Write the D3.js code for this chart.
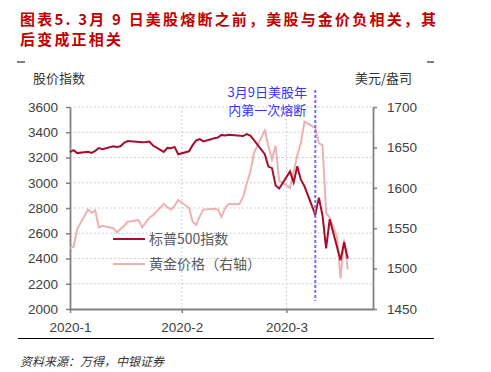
<!DOCTYPE html>
<html>
<head>
<meta charset="utf-8">
<script src="https://cdn.jsdelivr.net/npm/d3@7"></script>
<style>
  body { margin: 0; background: #fff; }
  svg { display: block; }
</style>
</head>
<body>
<div id="chart"></div>
<script>
const W = 491;
const H = 372;

const MARGIN = { TOP: 107, RIGHT: 118, BOTTOM: 63, LEFT: 70 };
const PW = W - MARGIN.LEFT - MARGIN.RIGHT;
const PH = H - MARGIN.TOP - MARGIN.BOTTOM;

// S&P 500 index (left axis)
const spxDates = ["2020-01-01","2020-01-02","2020-01-03","2020-01-06","2020-01-07","2020-01-08","2020-01-09","2020-01-10",
  "2020-01-13","2020-01-14","2020-01-15","2020-01-16","2020-01-17","2020-01-21","2020-01-22","2020-01-23","2020-01-24",
  "2020-01-27","2020-01-28","2020-01-29","2020-01-30","2020-01-31","2020-02-03","2020-02-04","2020-02-05","2020-02-06",
  "2020-02-07","2020-02-10","2020-02-11","2020-02-12","2020-02-13","2020-02-14","2020-02-18","2020-02-19","2020-02-20",
  "2020-02-21","2020-02-24","2020-02-25","2020-02-26","2020-02-27","2020-02-28","2020-03-02","2020-03-03","2020-03-04",
  "2020-03-05","2020-03-06","2020-03-09","2020-03-10","2020-03-11","2020-03-12","2020-03-13","2020-03-16","2020-03-17",
  "2020-03-18"];
const spxValues = [3243,3258,3235,3246,3237,3253,3275,3265,
  3288,3283,3289,3317,3330,3321,3322,3326,3295,
  3244,3276,3273,3284,3226,3249,3298,3335,3346,
  3328,3352,3358,3379,3374,3380,3370,3386,3373,
  3338,3226,3128,3116,2979,2954,3090,3003,3130,
  3024,2972,2747,2882,2741,2481,2711,2386,2529,
  2398];

// gold price, USD/oz (right axis)
const goldDates = ["2020-01-01","2020-01-02","2020-01-03","2020-01-06","2020-01-07","2020-01-08","2020-01-09","2020-01-10",
  "2020-01-13","2020-01-14","2020-01-15","2020-01-16","2020-01-17","2020-01-20","2020-01-21","2020-01-22","2020-01-23",
  "2020-01-24","2020-01-27","2020-01-28","2020-01-29","2020-01-30","2020-01-31","2020-02-03","2020-02-04","2020-02-05",
  "2020-02-06","2020-02-07","2020-02-10","2020-02-11","2020-02-12","2020-02-13","2020-02-14","2020-02-17","2020-02-18",
  "2020-02-19","2020-02-20","2020-02-21","2020-02-24","2020-02-25","2020-02-26","2020-02-27","2020-02-28","2020-03-02",
  "2020-03-03","2020-03-04","2020-03-05","2020-03-06","2020-03-09","2020-03-10","2020-03-11","2020-03-12","2020-03-13",
  "2020-03-15","2020-03-16","2020-03-17","2020-03-18"];
const goldValues = [1525,1527,1549,1573,1569,1572,1551,1553,
  1550,1545,1549,1553,1558,1560,1551,1557,1563,
  1566,1580,1576,1573,1578,1585,1575,1558,1554,
  1565,1573,1574,1573,1564,1575,1580,1580,1589,
  1605,1620,1643,1671,1652,1635,1652,1609,1600,
  1620,1640,1655,1682,1674,1655,1653,1569,1563,
  1540,1488,1536,1499];

const leftTicks = [2000,2200,2400,2600,2800,3000,3200,3400,3600];
const rightTicks = [1450,1500,1550,1600,1650,1700];
const monthTicks = ["2020-01-01","2020-02-01","2020-03-01"];
const monthLabels = ["2020-1","2020-2","2020-3"];
const seriesNames = ["标普500指数","黄金价格（右轴）"];
const breakerDate = "2020-03-09";

const colors = { spx: "#A50F2D", gold: "#EDB1B1", axis: "#808080", grid: "#BFBFBF", note: "#3333FF", title: "#C00000" };

const parse = d3.timeParse("%Y-%m-%d");
const spx = spxDates.map((d, i) => ({ date: parse(d), value: spxValues[i] }));
const gold = goldDates.map((d, i) => ({ date: parse(d), value: goldValues[i] }));

const svg = d3.select("#chart").append("svg").attr("width", W).attr("height", H);

// title
const title = svg.append("g")
  .attr("fill", colors.title)
  .style("font-family", "'Noto Sans CJK SC', sans-serif")
  .style("font-weight", "bold")
  .style("font-size", "15px")
  .style("letter-spacing", "2.2px");
title.append("text").attr("x", 20).attr("y", 25).text("图表5. 3月 9 日美股熔断之前，美股与金价负相关，其");
title.append("text").attr("x", 20).attr("y", 45).text("后变成正相关");

// little corner marks
svg.append("line").attr("x1", 17).attr("x2", 25).attr("y1", 62).attr("y2", 62).attr("stroke", "#000");
svg.append("line").attr("x1", 427).attr("x2", 434).attr("y1", 62).attr("y2", 62).attr("stroke", "#000");

const g = svg.append("g").attr("transform", `translate(${MARGIN.LEFT}, ${MARGIN.TOP})`);

const x = d3.scaleTime().domain([parse("2020-01-01"), parse("2020-03-25")]).range([0, PW]);
const yL = d3.scaleLinear().domain([2000, 3600]).range([PH, 0]);
const yR = d3.scaleLinear().domain([1450, 1700]).range([PH, 0]);

// grid
g.append("g")
  .selectAll("line")
  .data(leftTicks.slice(1))
  .join("line")
  .attr("x1", 0).attr("x2", PW)
  .attr("y1", (d) => yL(d)).attr("y2", (d) => yL(d))
  .attr("stroke", colors.grid).attr("stroke-dasharray", "1.5,2.5");
g.append("g")
  .selectAll("line")
  .data(monthTicks.slice(1).map(parse))
  .join("line")
  .attr("x1", (d) => x(d)).attr("x2", (d) => x(d))
  .attr("y1", 0).attr("y2", PH)
  .attr("stroke", colors.grid).attr("stroke-dasharray", "1.5,2.5");

// axes
const tickFont = "'Liberation Sans', Arial, sans-serif";
function styleAxis(sel) {
  sel.select(".domain").attr("stroke", colors.axis).attr("stroke-width", 1.8);
  sel.selectAll(".tick line").attr("stroke", colors.axis).attr("stroke-width", 1.5);
  sel.selectAll(".tick text").attr("fill", "#404040").style("font-family", tickFont).style("font-size", "13.5px");
}

g.append("g")
  .call(d3.axisLeft(yL).tickValues(leftTicks).tickFormat(d3.format("d"))
    .tickSize(4).tickSizeOuter(0).tickPadding(8))
  .call(styleAxis);

g.append("g")
  .attr("transform", `translate(${PW}, 0)`)
  .call(d3.axisRight(yR).tickValues(rightTicks).tickFormat(d3.format("d"))
    .tickSize(4).tickSizeOuter(0).tickPadding(10))
  .call(styleAxis);

g.append("g")
  .attr("transform", `translate(0, ${PH})`)
  .call(d3.axisBottom(x).tickValues(monthTicks.map(parse))
    .tickFormat((d, i) => monthLabels[i]).tickSize(4).tickSizeOuter(0).tickPadding(9))
  .call(styleAxis);

// axis titles
const labFont = "'Noto Sans CJK SC', sans-serif";
svg.append("text").attr("x", 33).attr("y", 83).text("股价指数")
  .attr("fill", "#333").style("font-family", labFont).style("font-size", "13px");
svg.append("text").attr("x", 355).attr("y", 83).text("美元/盎司")
  .attr("fill", "#333").style("font-family", labFont).style("font-size", "13px");

// lines
g.append("path")
  .datum(gold)
  .attr("fill", "none")
  .attr("stroke", colors.gold)
  .attr("stroke-width", 2)
  .attr("d", d3.line().x((d) => x(d.date)).y((d) => yR(d.value)));

g.append("path")
  .datum(spx)
  .attr("fill", "none")
  .attr("stroke", colors.spx)
  .attr("stroke-width", 2)
  .attr("d", d3.line().x((d) => x(d.date)).y((d) => yL(d.value)));

// circuit breaker marker
const bx = x(parse(breakerDate));
g.append("line")
  .attr("x1", bx).attr("x2", bx)
  .attr("y1", -17).attr("y2", PH - 8)
  .attr("stroke", "#7070FF").attr("stroke-width", 2).attr("stroke-dasharray", "3,2");
const note = g.append("g")
  .attr("fill", colors.note)
  .attr("text-anchor", "middle")
  .style("font-family", labFont)
  .style("font-size", "13px");
note.append("text").attr("x", bx - 48).attr("y", -10).text("3月9日美股年");
note.append("text").attr("x", bx - 48).attr("y", 8).text("内第一次熔断");

// legend
const legend = g.append("g").attr("transform", "translate(43, 132)");
[colors.spx, colors.gold].forEach((c, i) => {
  const row = legend.append("g").attr("transform", `translate(0, ${i * 25})`);
  row.append("line").attr("x1", 0).attr("x2", 32).attr("stroke", c).attr("stroke-width", 2);
  row.append("text").attr("x", 36).attr("y", 5).text(seriesNames[i])
    .attr("fill", "#595959").style("font-family", labFont).style("font-size", "14px");
});

// footer
svg.append("line").attr("x1", 18).attr("x2", 434).attr("y1", 338.5).attr("y2", 338.5)
  .attr("stroke", "#000").attr("stroke-width", 1);
svg.append("text").attr("x", 20).attr("y", 366).text("资料来源：万得，中银证券")
  .attr("fill", "#333").style("font-family", labFont).style("font-size", "12px").style("font-style", "italic");
</script>
</body>
</html>
